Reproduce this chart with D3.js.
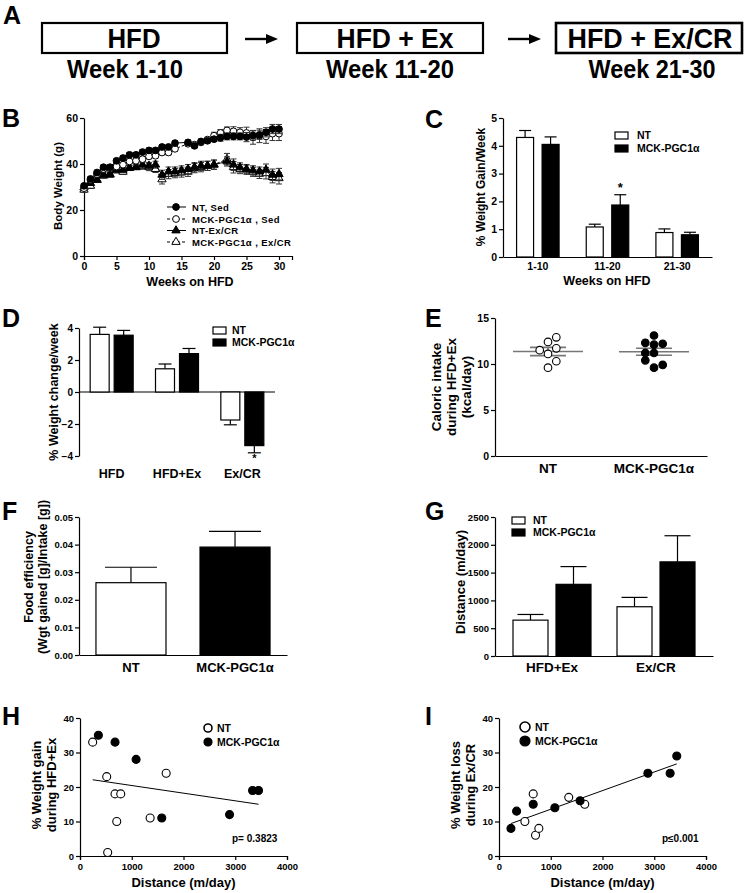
<!DOCTYPE html>
<html><head><meta charset="utf-8">
<script src="https://cdn.jsdelivr.net/npm/d3@7"></script>
<style>
body{margin:0;background:#fff}
svg{display:block}
text{font-family:"Liberation Sans",Arial,Helvetica,sans-serif;font-weight:bold;fill:#000}
</style>
</head><body>
<svg id="c" width="747" height="893"></svg>
<script>
// ---------- DATA ----------
// Panel A
const aBoxLabels = ["HFD", "HFD + Ex", "HFD + Ex/CR"];
const aWeekLabels = ["Week 1-10", "Week 11-20", "Week 21-30"];

// Panel B (body weight, g)
const weeksSed = [0,1,2,3,4,5,6,7,8,9,10,11,12,13,14,16,17,18,19,20,21,22,23,24,25,26,27,28,29,30];
const ntSed    = [30.5,33.5,36.3,38.6,38.6,41.4,42.6,44.0,44.0,45.2,45.9,45.9,47.4,47.4,49.1,49.4,47.9,49.8,50.1,50.8,51.4,52.0,52.0,52.0,51.7,52.4,52.7,53.8,55.2,55.2];
const ntSedErr = [1,1,1,1,1,1,1,1,1,1,1,1,1,1,1,1,1,1,1,1,1.5,1.5,1.5,1.5,2,2,2,2,2,2];
const mckSed    = [29.5,33.1,35.6,37.8,38.2,38.9,39.7,41.1,41.4,42.1,43.3,43.6,45.0,45.0,46.6,48.8,48.4,49.4,50.6,52.3,53.5,54.6,54.2,53.8,53.5,51.6,52.3,52.0,53.2,53.2];
const mckSedErr = [1,1,1,1,1,1,1,1,1,1,1,1,1,1,1,1,1,1,1,1.5,1.5,1.5,2,2,2.5,3,3,3,3,3];
const weeksEx = [0,1,2,3,4,5,6,7,8,9,10,11,12,13,14,15,16,17,18,19,20,22,23,24,25,26,27,28,29,30];
const ntEx    = [29.8,31.7,33.1,35.3,35.6,37.5,37.5,38.2,38.6,39.7,39.2,39.7,35.3,36.7,36.7,37.2,37.8,38.6,39.2,39.2,39.7,41.1,39.7,38.5,37.8,37.2,36.7,37.5,35.3,35.6];
const ntExErr = [1,1,1,1,1,1,1,1,1,1.5,1.5,1.5,2,2,2,2,2,2,2,2,2,2,2.5,2,2,2,2,2.5,2.5,2.5];
const mckEx    = [28.8,30.5,33.1,34.9,35.3,37.2,36.6,38.4,38.6,39.2,38.6,37.8,33.3,35.6,36.0,36.3,36.6,38.2,38.6,39.2,39.7,42.1,38.6,37.8,37.5,36.6,35.7,36.0,34.3,33.8];
const mckExErr = [1,1,1,1,1,1,1,1,1,1.5,1.5,1.5,2,2,2,2,2,2,2,2,2,2.5,2.5,2,2,2,2,2.5,2.5,2.5];
const bLegend = ["NT, Sed", "MCK-PGC1\u03b1 , Sed", "NT-Ex/CR", "MCK-PGC1\u03b1 , Ex/CR"];
const bXTicks = [0,5,10,15,20,25,30];
const bYTicks = [0,20,40,60];

// Panel C (% weight gain/week)
const cCats = ["1-10", "11-20", "21-30"];
const cNT = [4.3, 1.08, 0.88];
const cNTerr = [0.25, 0.1, 0.13];
const cMCK = [4.05, 1.87, 0.8];
const cMCKerr = [0.27, 0.37, 0.09];
const cYTicks = [0,1,2,3,4,5];

// Panel D (% weight change/week)
const dCats = ["HFD", "HFD+Ex", "Ex/CR"];
const dNT = [3.6, 1.45, -1.75];
const dNTerr = [0.45, 0.3, 0.3];
const dMCK = [3.55, 2.4, -3.35];
const dMCKerr = [0.3, 0.32, 0.45];
const dYTicks = [-4,-2,0,2,4];

// Panel E (caloric intake, kcal/day)
const eCats = ["NT", "MCK-PGC1\u03b1"];
const eNT = [12.9, 12.4, 11.5, 11.7, 11.1, 10.3, 9.6];
const eNTslot = [1, 0, -1, 1, 0, 1, 0];
const eMCK = [13.1, 12.3, 12.1, 12.2, 11.2, 11.2, 10.4, 9.6, 9.9];
const eMCKslot = [0, -1, 0, 1, -1, 0, -1, 0, 1];
const eSEM = [0.45, 0.38];
const eYTicks = [0,5,10,15];

// Panel F (food efficiency)
const fCats = ["NT", "MCK-PGC1\u03b1"];
const fVals = [0.0262, 0.0391];
const fErr = [0.0056, 0.0057];
const fYTicks = [0,0.01,0.02,0.03,0.04,0.05];

// Panel G (distance, m/day)
const gCats = ["HFD+Ex", "Ex/CR"];
const gNT = [645, 886];
const gNTerr = [102, 168];
const gMCK = [1289, 1693];
const gMCKerr = [319, 470];
const gYTicks = [0,500,1000,1500,2000,2500];

// Panel H (% weight gain vs distance)
const hNTx = [245, 516, 677, 787, 710, 1355, 1665, 535];
const hNTy = [33, 23, 18, 18, 10, 11, 24, 1];
const hMCKx = [355, 677, 1084, 1580, 2890, 3335, 3450];
const hMCKy = [35, 33, 28, 11, 12, 19, 19];
const hFitX = [245, 3450];
const hFitY = [22.1, 15.0];

// Panel I (% weight loss vs distance)
const iNTx = [500, 661, 706, 770, 1348, 1657];
const iNTy = [10, 18, 6, 8, 17, 15];
const iMCKx = [231, 340, 661, 1079, 1567, 2877, 3307, 3435];
const iMCKy = [8, 13, 15, 14, 16, 24, 24, 29];
const iFitX = [231, 3435];
const iFitY = [9.4, 26.7];
const scatterXTicks = [0,1000,2000,3000,4000];
const scatterYTicks = [0,10,20,30,40];

// ---------- HELPERS ----------
const svg = d3.select("#c");

function styleAxis(g, fs) {
  g.attr("font-size", null).attr("font-family", null);
  g.selectAll("text").style("font-size", fs + "px").attr("fill", "#000");
  g.selectAll("path,line").attr("stroke", "#000").attr("stroke-width", 1.2);
  return g;
}
function leftAxis(x, scale, vals, fmt, fs) {
  const g = svg.append("g").attr("transform", `translate(${x},0)`)
    .call(d3.axisLeft(scale).tickValues(vals).tickFormat(fmt).tickSize(4).tickPadding(2).tickSizeOuter(0));
  return styleAxis(g, fs);
}
function bottomAxis(y, scale, vals, fmt, fs, tsize) {
  const ax = d3.axisBottom(scale).tickSizeOuter(0);
  if (vals) ax.tickValues(vals).tickFormat(fmt).tickSize(tsize === undefined ? 4 : tsize).tickPadding(3);
  else ax.tickValues([]);
  const g = svg.append("g").attr("transform", `translate(0,${y})`).call(ax);
  return styleAxis(g, fs);
}
function text(x, y, s, fs, anchor) {
  return svg.append("text").attr("x", x).attr("y", y).attr("font-size", fs)
    .attr("text-anchor", anchor || "middle").text(s);
}
function vtext(x, y, s, fs) {
  return svg.append("text").attr("transform", `translate(${x},${y}) rotate(-90)`)
    .attr("font-size", fs).attr("text-anchor", "middle").text(s);
}
function line(x1, y1, x2, y2, w, col, dash) {
  const l = svg.append("line").attr("x1", x1).attr("y1", y1).attr("x2", x2).attr("y2", y2)
    .attr("stroke", col || "#000").attr("stroke-width", w || 1.2);
  if (dash) l.attr("stroke-dasharray", dash);
  return l;
}
function panelLetter(x, y, s) { text(x, y, s, 25, "start"); }

function groupedBars(o) {
  const xb = d3.scaleBand().domain(o.cats).range(o.xr).paddingOuter(o.po || 0);
  const cen = c => xb(c) + xb.bandwidth() / 2;
  const series = [
    {vals: o.nt, errs: o.ntE, fill: "#fff", side: -1},
    {vals: o.mck, errs: o.mckE, fill: "#000", side: 1}
  ];
  series.forEach(s => {
    o.cats.forEach((cat, i) => {
      const v = s.vals[i], e = s.errs[i];
      const bx = s.side < 0 ? cen(cat) - o.gap / 2 - o.barW : cen(cat) + o.gap / 2;
      const cx = bx + o.barW / 2;
      const y0 = o.y(0), yv = o.y(v), ye = o.y(v >= 0 ? v + e : v - e);
      line(cx, yv, cx, ye, 1.2);
      line(cx - o.cap / 2, ye, cx + o.cap / 2, ye, 1.2);
      svg.append("rect").attr("x", bx).attr("y", Math.min(y0, yv))
        .attr("width", o.barW).attr("height", Math.abs(yv - y0))
        .attr("fill", s.fill).attr("stroke", "#000").attr("stroke-width", 1.2);
    });
  });
  return {xb, cen};
}
function barLegend(x, y1, y2, tx, fs) {
  svg.append("rect").attr("x", x).attr("y", y1).attr("width", 13).attr("height", 7)
    .attr("fill", "#fff").attr("stroke", "#000").attr("stroke-width", 1.2);
  svg.append("rect").attr("x", x).attr("y", y2).attr("width", 13).attr("height", 7)
    .attr("fill", "#000").attr("stroke", "#000").attr("stroke-width", 1.2);
  text(tx, y1 + 7, "NT", fs, "start");
  text(tx, y2 + 7, "MCK-PGC1\u03b1", fs, "start");
}

// ---------- PANEL A ----------
panelLetter(3, 24, "A");
const narrow = '"Liberation Sans Narrow","Arial Narrow","Liberation Sans",Arial,sans-serif';
const aBoxX = [42, 297, 556], aBoxW = [185, 186, 186];
const aTextC = [134, 395, 650], aTextL = [53, 117, 165];
const aWeekC = [125, 390, 652], aWeekL = [116, 128, 127];
aBoxLabels.forEach((s, i) => {
  svg.append("rect").attr("x", aBoxX[i]).attr("y", 23).attr("width", aBoxW[i]).attr("height", 30)
    .attr("fill", "#fff").attr("stroke", "#000").attr("stroke-width", i === 2 ? 2.6 : 2.2);
  svg.append("text").attr("x", aTextC[i]).attr("y", 48).attr("text-anchor", "middle")
    .style("font-family", narrow).attr("font-size", 28)
    .attr("textLength", aTextL[i]).attr("lengthAdjust", "spacingAndGlyphs").text(s);
});
aWeekLabels.forEach((s, i) => {
  svg.append("text").attr("x", aWeekC[i]).attr("y", 78).attr("text-anchor", "middle")
    .style("font-family", narrow).attr("font-size", 25)
    .attr("textLength", aWeekL[i]).attr("lengthAdjust", "spacingAndGlyphs").text(s);
});
[[245, 278], [508, 541]].forEach(([x1, x2]) => {
  line(x1, 39, x2 - 9, 39, 2.4);
  svg.append("path").attr("d", `M${x2},39 L${x2 - 12},34 L${x2 - 12},44 Z`).attr("fill", "#000");
});

// ---------- PANEL B ----------
panelLetter(2, 127, "B");
{
  const x = d3.scaleLinear().domain([0, 32]).range([84, 292]);
  const y = d3.scaleLinear().domain([0, 60]).range([256, 118]);
  leftAxis(84, y, bYTicks, d3.format("d"), 10.5);
  bottomAxis(256, x, bXTicks, d3.format("d"), 10.5);
  vtext(62, 186, "Body Weight (g)", 11.5);
  text(190, 286, "Weeks on HFD", 12.5);

  const sets = [
    {w: weeksEx, v: mckEx, e: mckExErr, sym: d3.symbolTriangle, fill: "#fff", dash: "3,2"},
    {w: weeksEx, v: ntEx, e: ntExErr, sym: d3.symbolTriangle, fill: "#000", dash: null},
    {w: weeksSed, v: mckSed, e: mckSedErr, sym: d3.symbolCircle, fill: "#fff", dash: "3,2"},
    {w: weeksSed, v: ntSed, e: ntSedErr, sym: d3.symbolCircle, fill: "#000", dash: null}
  ];
  sets.forEach(s => {
    const pts = s.w.map((wk, i) => [wk, s.v[i], s.e[i]]);
    pts.forEach(p => {
      line(x(p[0]), y(p[1] - p[2]), x(p[0]), y(p[1] + p[2]), 1, "#333");
      line(x(p[0]) - 3, y(p[1] + p[2]), x(p[0]) + 3, y(p[1] + p[2]), 1, "#333");
      line(x(p[0]) - 3, y(p[1] - p[2]), x(p[0]) + 3, y(p[1] - p[2]), 1, "#333");
    });
    const p = svg.append("path").datum(pts)
      .attr("d", d3.line().x(d => x(d[0])).y(d => y(d[1])))
      .attr("fill", "none").attr("stroke", "#000").attr("stroke-width", 1);
    if (s.dash) p.attr("stroke-dasharray", s.dash);
    svg.selectAll(null).data(pts).join("path")
      .attr("transform", d => `translate(${x(d[0])},${y(d[1])})`)
      .attr("d", d3.symbol(s.sym, s.sym === d3.symbolCircle ? 36 : 30))
      .attr("fill", s.fill).attr("stroke", "#000").attr("stroke-width", 1);
  });
  const legSyms = [[d3.symbolCircle, "#000", null], [d3.symbolCircle, "#fff", "3,2"],
                   [d3.symbolTriangle, "#000", null], [d3.symbolTriangle, "#fff", "3,2"]];
  const legY = [207, 219, 230.5, 242];
  bLegend.forEach((s, i) => {
    line(167, legY[i], 186, legY[i], 1, "#000", legSyms[i][2]);
    svg.append("path").attr("transform", `translate(176,${legY[i]})`)
      .attr("d", d3.symbol(legSyms[i][0], legSyms[i][0] === d3.symbolCircle ? 36 : 30))
      .attr("fill", legSyms[i][1]).attr("stroke", "#000").attr("stroke-width", 1);
    text(192, legY[i] + 3.5, s, 9.5, "start").attr("letter-spacing", 0.4);
  });
}

// ---------- PANEL C ----------
panelLetter(425, 128, "C");
{
  const y = d3.scaleLinear().domain([0, 5]).range([257, 118]);
  leftAxis(503, y, cYTicks, d3.format("d"), 10.5);
  bottomAxis(257, d3.scaleLinear().range([503, 712]), null, null, 10);
  const r = groupedBars({cats: cCats, nt: cNT, ntE: cNTerr, mck: cMCK, mckE: cMCKerr,
    xr: [503, 712], y, barW: 17, gap: 8.5, cap: 12});
  cCats.forEach(c => text(r.cen(c), 270, c, 10.5));
  text(r.cen(cCats[1]) + 12.75, y(cMCK[1] + cMCKerr[1]) - 3, "*", 13);
  vtext(485, 187, "% Weight Gain/Week", 12);
  text(607, 285, "Weeks on HFD", 12.5);
  barLegend(615, 132, 145, 637, 10.5);
}

// ---------- PANEL D ----------
panelLetter(2, 327, "D");
{
  const y = d3.scaleLinear().domain([-4, 4]).range([456, 328]);
  leftAxis(79, y, dYTicks, d3.format("d"), 10);
  line(79, y(0), 275, y(0), 1.2);
  const r = groupedBars({cats: dCats, nt: dNT, ntE: dNTerr, mck: dMCK, mckE: dMCKerr,
    xr: [79, 275], y, barW: 19, gap: 5, cap: 13});
  dCats.forEach(c => text(r.cen(c), 478, c, 12.5));
  text(r.cen(dCats[2]) + 12, y(dMCK[2] - dMCKerr[2]) + 9, "*", 11);
  vtext(58, 392, "% Weight change/week", 12.5);
  barLegend(213, 327, 339, 232, 10.5);
}

// ---------- PANEL E ----------
panelLetter(425, 327, "E");
{
  const y = d3.scaleLinear().domain([0, 15]).range([456, 318]);
  const x = d3.scalePoint().domain(eCats).range([495, 707]).padding(0.5);
  leftAxis(495, y, eYTicks, d3.format("d"), 10.5);
  bottomAxis(456, d3.scaleLinear().range([495, 707]), null, null, 10);
  eCats.forEach(c => text(x(c), 473, c, 13.5));
  const groups = [[eNT, eNTslot, "#fff", 8.3], [eMCK, eMCKslot, "#000", 8.7]];
  groups.forEach(([vals, slots, fill, sp], gi) => {
    const cx = x(eCats[gi]);
    const m = d3.mean(vals), se = eSEM[gi];
    line(cx - 35, y(m), cx + 35, y(m), 1.6, "#777");
    line(cx, y(m - se), cx, y(m + se), 1.6, "#777");
    line(cx - 18, y(m + se), cx + 18, y(m + se), 1.6, "#777");
    line(cx - 18, y(m - se), cx + 18, y(m - se), 1.6, "#777");
    svg.selectAll(null).data(vals).join("circle")
      .attr("cx", (d, i) => cx + slots[i] * sp).attr("cy", d => y(d)).attr("r", 3.8)
      .attr("fill", fill).attr("stroke", "#000").attr("stroke-width", 1.1);
  });
  vtext(441, 387, "Caloric intake", 13.5);
  vtext(456, 387, "during HFD+Ex", 13.5);
  vtext(471, 387, "(kcal/day)", 13.5);
}

// ---------- PANEL F ----------
panelLetter(2, 520, "F");
{
  const y = d3.scaleLinear().domain([0, 0.05]).range([655, 517]);
  const x = d3.scaleBand().domain(fCats).range([79, 287]).paddingInner(0.327).paddingOuter(0.163);
  leftAxis(79, y, fYTicks, d3.format(".2f"), 9.5);
  bottomAxis(655, d3.scaleLinear().range([79, 287]), null, null, 10);
  fCats.forEach((c, i) => {
    const cx = x(c) + x.bandwidth() / 2;
    const ye = y(fVals[i] + fErr[i]);
    line(cx, y(fVals[i]), cx, ye, 1.2);
    line(cx - 26, ye, cx + 26, ye, 1.2);
    svg.append("rect").attr("x", x(c)).attr("y", y(fVals[i])).attr("width", x.bandwidth())
      .attr("height", y(0) - y(fVals[i])).attr("fill", i === 0 ? "#fff" : "#000")
      .attr("stroke", "#000").attr("stroke-width", 1.2);
    text(cx, 672, c, 13);
  });
  vtext(33, 577, "Food efficiency", 12.5);
  vtext(47, 577, "(Wgt gained [g]/Intake [g])", 12.5);
}

// ---------- PANEL G ----------
panelLetter(425, 520, "G");
{
  const y = d3.scaleLinear().domain([0, 2500]).range([656, 517]);
  leftAxis(495, y, gYTicks, d3.format("d"), 9.5);
  bottomAxis(656, d3.scaleLinear().range([495, 713]), null, null, 10);
  const r = groupedBars({cats: gCats, nt: gNT, ntE: gNTerr, mck: gMCK, mckE: gMCKerr,
    xr: [495, 713], po: 0.048, y, barW: 35, gap: 8, cap: 26});
  gCats.forEach(c => text(r.cen(c), 672, c, 13.5));
  vtext(465, 582, "Distance (m/day)", 13);
  barLegend(512, 517, 529, 533, 10.5);
}

// ---------- PANELS H & I ----------
function scatterPanel(o) {
  const x = d3.scaleLinear().domain([0, 4000]).range([o.x0, o.x0 + 207]);
  const y = d3.scaleLinear().domain([0, 40]).range([856, 718]);
  leftAxis(o.x0, y, scatterYTicks, d3.format("d"), 9.5);
  bottomAxis(856, x, scatterXTicks, d3.format("d"), 9.5);
  svg.append("path").datum(o.fitX.map((v, i) => [v, o.fitY[i]]))
    .attr("d", d3.line().x(d => x(d[0])).y(d => y(d[1])))
    .attr("stroke", "#000").attr("stroke-width", 1).attr("fill", "none");
  [[o.ntx, o.nty, "#fff"], [o.mckx, o.mcky, "#000"]].forEach(([xs, ys, fill]) => {
    svg.selectAll(null).data(xs).join("circle")
      .attr("cx", d => x(d)).attr("cy", (d, i) => y(ys[i])).attr("r", 4)
      .attr("fill", fill).attr("stroke", "#000").attr("stroke-width", 1.1);
  });
  text(x(2000), 887, "Distance (m/day)", 13);
  vtext(o.tx1, 785, o.t1, 13);
  vtext(o.tx2, 785, o.t2, 13);
  svg.append("circle").attr("cx", o.lx).attr("cy", o.ly1).attr("r", o.lr).attr("fill", "#fff").attr("stroke", "#000").attr("stroke-width", 1.6);
  svg.append("circle").attr("cx", o.lx).attr("cy", o.ly2).attr("r", o.lr).attr("fill", "#000").attr("stroke", "#000").attr("stroke-width", 1.2);
  text(o.lx + o.lr + 5, o.ly1 + 4, "NT", 10.5, "start");
  text(o.lx + o.lr + 5, o.ly2 + 4, "MCK-PGC1\u03b1", 10.5, "start");
  text(o.px, 842, o.p, 10, "start");
}
panelLetter(2, 725, "H");
scatterPanel({x0: 80, ntx: hNTx, nty: hNTy, mckx: hMCKx, mcky: hMCKy, fitX: hFitX, fitY: hFitY,
  t1: "% Weight gain", t2: "during HFD+Ex", tx1: 41, tx2: 56, lx: 208, ly1: 728, ly2: 742, lr: 4,
  p: "p= 0.3823", px: 232});
panelLetter(425, 725, "I");
scatterPanel({x0: 499, ntx: iNTx, nty: iNTy, mckx: iMCKx, mcky: iMCKy, fitX: iFitX, fitY: iFitY,
  t1: "% Weight loss", t2: "during Ex/CR", tx1: 460, tx2: 475, lx: 525, ly1: 727, ly2: 741, lr: 5,
  p: "p\u22640.001", px: 662});
</script>
</body></html>
